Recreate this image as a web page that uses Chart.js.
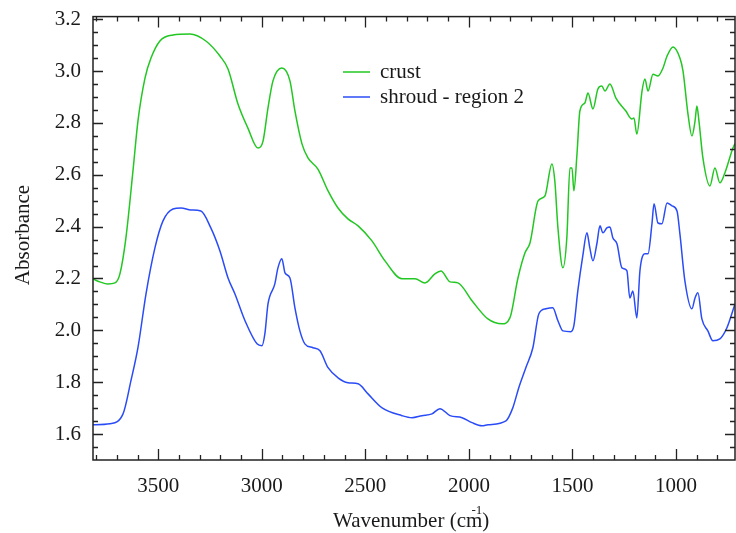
<!DOCTYPE html>
<html>
<head>
<meta charset="utf-8">
<script src="https://cdn.jsdelivr.net/npm/chart.js@4.4.1/dist/chart.umd.min.js"></script>
<style>
    body { margin: 0; background: #fff; }
    #wrap { width: 736px; height: 533px; }
</style>
</head>
<body>
<div id="wrap"><canvas id="spectrum" width="736" height="533"></canvas></div>
<script>
// Spectra (wavenumber in cm-1, absorbance)
const crustWn = [3815, 3782, 3743, 3709, 3685, 3656, 3622, 3598, 3564, 3535, 3492, 3429, 3347, 3270, 3202, 3163, 3115, 3067, 3018, 2994,
    2970, 2946, 2903, 2864, 2840, 2806, 2777, 2729, 2680, 2632, 2584, 2535, 2468, 2405, 2323, 2260, 2212, 2164, 2135, 2091,
    2053, 1985, 1908, 1840, 1802, 1763, 1729, 1705, 1666, 1633, 1599, 1585, 1570, 1546, 1527, 1512, 1502, 1493, 1478, 1464,
    1440, 1425, 1401, 1377, 1358, 1343, 1319, 1290, 1242, 1213, 1203, 1189, 1164, 1150, 1135, 1111, 1087, 1063, 1043, 1014,
    981, 966, 942, 923, 908, 899, 889, 870, 836, 812, 788, 764, 725, 715];
const crustAbs = [2.198, 2.187, 2.179, 2.183, 2.218, 2.357, 2.615, 2.807, 2.973, 3.050, 3.116, 3.139, 3.143, 3.116, 3.058, 3.008, 2.873, 2.780, 2.703, 2.730,
    2.858, 2.962, 3.012, 2.962, 2.846, 2.719, 2.665, 2.622, 2.538, 2.472, 2.430, 2.403, 2.345, 2.268, 2.199, 2.199, 2.183, 2.218, 2.229, 2.187,
    2.183, 2.114, 2.044, 2.025, 2.048, 2.202, 2.299, 2.337, 2.499, 2.518, 2.642, 2.576, 2.395, 2.241, 2.357, 2.626, 2.626, 2.538, 2.680, 2.846,
    2.877, 2.915, 2.854, 2.931, 2.942, 2.923, 2.950, 2.896, 2.846, 2.815, 2.819, 2.757, 2.923, 2.969, 2.923, 2.988, 2.981, 3.011, 3.058, 3.093,
    3.050, 3.000, 2.834, 2.750, 2.807, 2.865, 2.807, 2.665, 2.557, 2.626, 2.569, 2.607, 2.703, 2.720];

const shroudWn = [3815, 3733, 3670, 3632, 3598, 3559, 3516, 3477, 3429, 3390, 3342, 3294, 3246, 3202, 3163, 3130, 3081, 3023, 2999, 2985,
    2970, 2937, 2922, 2903, 2888, 2864, 2840, 2816, 2792, 2753, 2719, 2680, 2632, 2584, 2535, 2487, 2419, 2323, 2275, 2227,
    2178, 2140, 2091, 2033, 1985, 1937, 1908, 1821, 1788, 1759, 1725, 1691, 1662, 1628, 1595, 1570, 1546, 1508, 1493, 1474,
    1450, 1430, 1416, 1401, 1382, 1367, 1353, 1334, 1319, 1305, 1285, 1261, 1237, 1223, 1208, 1189, 1174, 1150, 1135, 1116,
    1106, 1087, 1068, 1043, 1019, 995, 981, 957, 923, 908, 894, 875, 846, 822, 788, 754, 715];
const shroudAbs = [1.636, 1.640, 1.678, 1.805, 1.933, 2.141, 2.318, 2.422, 2.468, 2.472, 2.464, 2.460, 2.395, 2.306, 2.202, 2.141, 2.037, 1.948, 1.941, 1.987,
    2.102, 2.179, 2.241, 2.276, 2.222, 2.202, 2.087, 1.998, 1.948, 1.933, 1.921, 1.856, 1.817, 1.798, 1.794, 1.755, 1.701, 1.671, 1.663, 1.671,
    1.678, 1.698, 1.671, 1.663, 1.644, 1.632, 1.636, 1.651, 1.701, 1.779, 1.856, 1.933, 2.064, 2.083, 2.087, 2.037, 1.998, 1.995, 2.018, 2.152,
    2.287, 2.376, 2.318, 2.268, 2.334, 2.403, 2.376, 2.395, 2.399, 2.357, 2.334, 2.241, 2.230, 2.125, 2.152, 2.048, 2.230, 2.295, 2.295, 2.411,
    2.488, 2.414, 2.411, 2.491, 2.480, 2.460, 2.372, 2.191, 2.083, 2.125, 2.145, 2.044, 1.998, 1.960, 1.967, 2.010, 2.102];

const seriesNames = ["crust", "shroud - region 2"];
const xTicks = [1000, 1500, 2000, 2500, 3000, 3500];
const yTicks = [1.6, 1.8, 2.0, 2.2, 2.4, 2.6, 2.8, 3.0, 3.2];

const textColor = "#1a1a1a";
const axisColor = "#222";
const serif = "'Liberation Serif', 'Times New Roman', serif";

const toPoints = (xs, ys) => xs.map((v, i) => ({ x: v, y: ys[i] }));

// frame with inward major/minor ticks on all four sides
const frameTicks = {
    id: "frameTicks",
    afterDatasetsDraw(chart) {
        const { ctx, chartArea: a, scales: { x, y } } = chart;
        ctx.save();
        ctx.strokeStyle = axisColor;
        ctx.lineWidth = 1.5;
        ctx.strokeRect(a.left, a.top, a.right - a.left, a.bottom - a.top);
        ctx.lineWidth = 1.3;
        ctx.beginPath();
        for (let v = 800; v <= 3800; v += 100) {
            const px = Math.round(x.getPixelForValue(v)) + 0.5;
            const len = v % 500 === 0 ? 11 : 5;
            ctx.moveTo(px, a.bottom); ctx.lineTo(px, a.bottom - len);
            ctx.moveTo(px, a.top); ctx.lineTo(px, a.top + len);
        }
        for (let i = 31; i <= 64; i++) {
            const py = Math.round(y.getPixelForValue(i * 0.05)) + 0.5;
            const len = i % 4 === 0 ? 10 : 5;
            ctx.moveTo(a.left, py); ctx.lineTo(a.left + len, py);
            ctx.moveTo(a.right, py); ctx.lineTo(a.right - len, py);
        }
        ctx.stroke();
        ctx.restore();
    },
    afterDraw(chart) {
        const { ctx } = chart;
        ctx.save();
        ctx.fillStyle = textColor;
        // legend
        chart.data.datasets.forEach((ds, i) => {
            const yy = 72 + i * 25;
            ctx.strokeStyle = ds.borderColor;
            ctx.lineWidth = 1.5;
            ctx.beginPath();
            ctx.moveTo(343, yy); ctx.lineTo(370, yy);
            ctx.stroke();
            ctx.font = "21px " + serif;
            ctx.textBaseline = "middle";
            ctx.textAlign = "left";
            ctx.fillText(ds.label, 380, yy);
        });
        // axis titles
        ctx.font = "21px " + serif;
        ctx.textBaseline = "alphabetic";
        ctx.textAlign = "left";
        const t1 = "Wavenumber (cm";
        ctx.fillText(t1, 333, 527);
        const w1 = ctx.measureText(t1).width;
        ctx.fillText(")", 333 + w1, 527);
        ctx.font = "13px " + serif;
        ctx.textAlign = "right";
        ctx.fillText("-1", 333 + w1, 514);
        ctx.translate(29, 235);
        ctx.rotate(-Math.PI / 2);
        ctx.font = "21px " + serif;
        ctx.textAlign = "center";
        ctx.fillText("Absorbance", 0, 0);
        ctx.restore();
    }
};

new Chart(document.getElementById("spectrum"), {
    type: "line",
    data: {
        datasets: [
            {
                label: seriesNames[0],
                data: toPoints(crustWn, crustAbs),
                borderColor: "#22c722",
                borderWidth: 1.5,
                pointRadius: 0,
                cubicInterpolationMode: "monotone"
            },
            {
                label: seriesNames[1],
                data: toPoints(shroudWn, shroudAbs),
                borderColor: "#2a4cf6",
                borderWidth: 1.5,
                pointRadius: 0,
                cubicInterpolationMode: "monotone"
            }
        ]
    },
    options: {
        responsive: false,
        animation: false,
        layout: { padding: { top: 16, right: 1, left: 0, bottom: 0 } },
        plugins: {
            legend: { display: false },
            tooltip: { enabled: false }
        },
        scales: {
            x: {
                type: "linear",
                reverse: true,
                min: 715,
                max: 3815,
                afterBuildTicks: s => { s.ticks = xTicks.map(v => ({ value: v })); },
                afterFit: s => { s.height = 73; },
                grid: { display: false },
                border: { display: false },
                ticks: {
                    padding: 6,
                    color: textColor,
                    font: { family: serif, size: 21 },
                    maxRotation: 0,
                    callback: v => String(v)
                }
            },
            y: {
                min: 1.5,
                max: 3.21,
                afterBuildTicks: s => { s.ticks = yTicks.map(v => ({ value: v })); },
                afterFit: s => { s.width = 93; },
                grid: { display: false },
                border: { display: false },
                ticks: {
                    padding: 4,
                    color: textColor,
                    font: { family: serif, size: 21 },
                    callback: v => v.toFixed(1)
                }
            }
        }
    },
    plugins: [frameTicks]
});
</script>
</body>
</html>
